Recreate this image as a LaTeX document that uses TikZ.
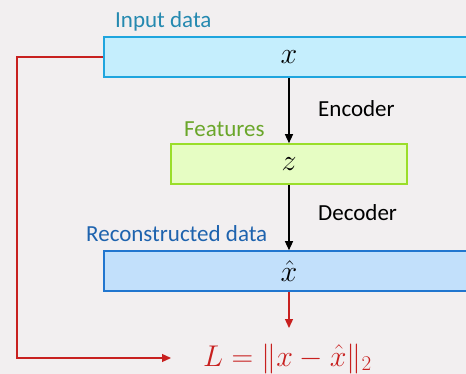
\RequirePackage{fix-cm}
\documentclass[tikz,border=0pt]{standalone}
\usepackage{amsmath}
\usepackage{fontspec}
\setmainfont{Carlito}
\usetikzlibrary{arrows.meta}

\definecolor{bgc}{HTML}{F2EFF0}
\definecolor{infill}{HTML}{C5EEFD}
\definecolor{inline}{HTML}{1FA5DE}
\definecolor{intext}{HTML}{2589B0}
\definecolor{featfill}{HTML}{E6FDC3}
\definecolor{featline}{HTML}{9ADE2A}
\definecolor{feattext}{HTML}{6AA62A}
\definecolor{recfill}{HTML}{C2E0FB}
\definecolor{recline}{HTML}{2176CF}
\definecolor{rectext}{HTML}{1E63AE}
\definecolor{lossred}{HTML}{C8201F}

\tikzset{
  layer/.style={rectangle, line width=1.6pt, minimum height=40pt, inner sep=0pt,
    font=\fontsize{30}{36}\selectfont},
  inputbox/.style={layer, fill=infill, draw=inline, minimum width=370pt},
  featbox/.style={layer, fill=featfill, draw=featline, minimum width=236pt},
  recbox/.style={layer, fill=recfill, draw=recline, minimum width=370pt},
  lbl/.style={anchor=base west, inner sep=0pt, font=\fontsize{23}{27}\selectfont},
  flow/.style={line width=1.3pt, -{Triangle[length=9pt,width=8pt]}},
  lossflow/.style={flow, draw=lossred},
}

\begin{document}
\begin{tikzpicture}[x=1pt, y=-1pt]
  \useasboundingbox (0,0) rectangle (466,374);
  \clip (0,0) rectangle (466,374);
  \fill[bgc] (0,0) rectangle (466,374);

  % layers of the autoencoder
  \node[inputbox] (inp) at (289,57)  {$x$};
  \node[featbox]  (feat) at (289,164) {$z$};
  \node[recbox]   (rec) at (289,271) {$\hat{x}$};

  % captions
  \node[lbl, text=intext]   (inlbl)   at (115,28)  {Input data};
  \node[lbl, text=feattext] (featlbl) at (184,137) {Features};
  \node[lbl, text=rectext]  (reclbl)  at (86,242)  {Reconstructed data};
  \node[lbl]                (enc)     at (318,117) {Encoder};
  \node[lbl]                (dec)     at (318,221) {Decoder};

  % loss
  \node[anchor=base west, inner sep=0pt, text=lossred,
        font=\fontsize{30}{36}\selectfont] (loss) at (203,366)
        {$L=\|x-\hat{x}\|_2$};

  % encoder / decoder arrows
  \draw[flow] (inp.south) -- (feat.north);
  \draw[flow] (feat.south) -- (rec.north);

  % loss paths
  \coordinate (lossTop) at (289,328);
  \coordinate (lossIn) at (171,358);
  \coordinate (corner) at (17,358);
  \draw[lossflow] (rec.south) -- (lossTop);
  \draw[lossflow] (inp.west) -| (corner) -- (lossIn);
\end{tikzpicture}
\end{document}
